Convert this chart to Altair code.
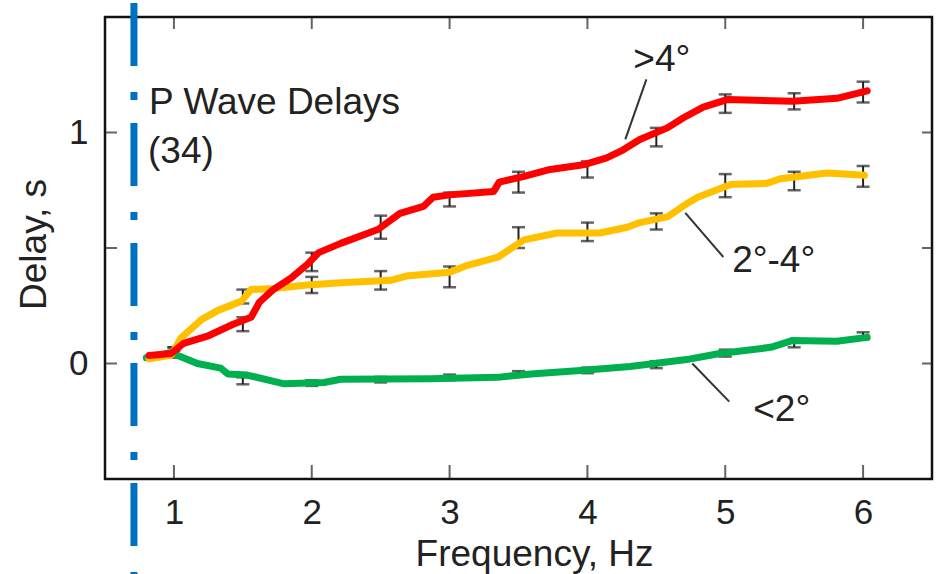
import altair as alt
import pandas as pd

# Smoothed delay curves (frequency in Hz, delay in s) for three distance bands
red_freq = [0.82, 0.98, 1.07, 1.25, 1.43, 1.56, 1.62, 1.72, 1.85, 1.97, 2.05, 2.21, 2.48, 2.64,
            2.81, 2.88, 3.0, 3.32, 3.36, 3.54, 3.73, 3.97, 4.14, 4.26, 4.38, 4.58, 4.70, 4.84,
            5.02, 5.49, 5.81, 6.03]
red_delay = [0.035, 0.043, 0.087, 0.12, 0.17, 0.20, 0.265, 0.32, 0.37, 0.43, 0.48, 0.52, 0.58, 0.65,
             0.68, 0.72, 0.73, 0.745, 0.785, 0.81, 0.84, 0.86, 0.89, 0.925, 0.97, 1.02, 1.065, 1.11,
             1.143, 1.135, 1.148, 1.18]

yellow_freq = [0.82, 0.98, 1.05, 1.20, 1.32, 1.49, 1.56, 1.72, 1.97, 2.21, 2.57, 2.70, 3.0, 3.13,
               3.35, 3.54, 3.78, 4.09, 4.29, 4.38, 4.58, 4.73, 4.80, 5.04, 5.30, 5.40, 5.74, 6.01]
yellow_delay = [0.02, 0.035, 0.11, 0.19, 0.23, 0.27, 0.32, 0.325, 0.34, 0.35, 0.36, 0.38, 0.395, 0.425,
                0.46, 0.535, 0.565, 0.565, 0.59, 0.61, 0.635, 0.695, 0.72, 0.775, 0.78, 0.80, 0.825, 0.815]

green_freq = [0.80, 0.98, 1.17, 1.34, 1.39, 1.53, 1.80, 2.09, 2.21, 2.86, 3.35, 3.59, 3.95, 4.31,
              4.72, 4.96, 5.33, 5.49, 5.81, 6.03]
green_delay = [0.025, 0.047, 0.0, -0.02, -0.045, -0.05, -0.088, -0.082, -0.068, -0.066, -0.06, -0.045,
               -0.03, -0.013, 0.017, 0.043, 0.07, 0.1, 0.096, 0.113]

# Binned means with their uncertainties
bin_freq = [1.0, 1.5, 2.0, 2.5, 3.0, 3.5, 4.0, 4.5, 5.0, 5.5, 6.0]
red_mean = [0.05, 0.17, 0.44, 0.59, 0.71, 0.785, 0.84, 0.98, 1.125, 1.135, 1.175]
red_err = [0.02, 0.03, 0.04, 0.05, 0.03, 0.045, 0.035, 0.04, 0.04, 0.035, 0.045]
yellow_mean = [0.05, 0.29, 0.34, 0.36, 0.375, 0.545, 0.57, 0.615, 0.77, 0.79, 0.81]
yellow_err = [0.02, 0.03, 0.035, 0.04, 0.045, 0.045, 0.04, 0.035, 0.05, 0.04, 0.045]
green_mean = [0.04, -0.075, -0.085, -0.07, -0.06, -0.045, -0.03, -0.005, 0.045, 0.085, 0.12]
green_err = [0.015, 0.015, 0.012, 0.012, 0.012, 0.012, 0.012, 0.015, 0.015, 0.015, 0.015]

# Text annotations
note_text = ["P Wave Delays", "(34)", ">4°", "2°-4°", "<2°"]
note_freq = [0.82, 0.812, 4.333, 5.05, 5.203]
note_delay = [1.078, 0.87, 1.265, 0.396, -0.248]

# Leader lines from the band labels to their curves
lead_f1 = [4.428, 4.71, 4.761]
lead_d1 = [1.230, 0.652, 0.0]
lead_f2 = [4.275, 4.986, 5.029]
lead_d2 = [0.970, 0.461, -0.165]

# Reference frequency marker
marker_freq = [0.71]
marker_top = [1.561]
marker_bottom = [-0.917]

# Axis ranges and tick positions
x_range = [0.5, 6.5]
y_range = [-0.5, 1.5]
x_ticks = [1, 2, 3, 4, 5, 6]
y_ticks = [0, 0.5, 1]
y_labels = [0, 1]

FONT = "Liberation Sans"
INK = "#222222"

xs = alt.Scale(domain=x_range, nice=False)
ys = alt.Scale(domain=y_range, nice=False, zero=False)

x_axis = alt.Axis(
    values=x_ticks, orient="bottom", ticks=False, tickSize=0, domain=False, grid=False,
    format="d", labelFont=FONT, labelFontSize=35, labelColor=INK, labelPadding=16,
    title="Frequency, Hz", titleFont=FONT, titleFontSize=37, titleFontWeight="normal",
    titleColor=INK, titleX=429, titleY=86, titleBaseline="alphabetic",
)
y_axis = alt.Axis(
    values=y_labels, orient="left", ticks=False, tickSize=0, domain=False, grid=False,
    format="d", labelFont=FONT, labelFontSize=35, labelColor=INK, labelPadding=17,
    title="Delay, s", titleFont=FONT, titleFontSize=37, titleFontWeight="normal",
    titleColor=INK, titleX=-60, titleY=227, titleBaseline="alphabetic", titleAngle=270,
)


def X(field):
    return alt.X(field, scale=xs, axis=x_axis)


def Y(field):
    return alt.Y(field, scale=ys, axis=y_axis)


# Error bar table
err_rows = []
for mean, err in ((red_mean, red_err), (yellow_mean, yellow_err), (green_mean, green_err)):
    for f, m, e in zip(bin_freq, mean, err):
        err_rows.append({"freq": f, "lo": m - e, "hi": m + e})
err_df = pd.DataFrame(err_rows)
cap_df = pd.concat([
    err_df[["freq", "lo"]].rename(columns={"lo": "delay"}),
    err_df[["freq", "hi"]].rename(columns={"hi": "delay"}),
])

bars = alt.Chart(err_df).mark_rule(color=INK, strokeWidth=2).encode(
    x=X("freq:Q"), y=Y("lo:Q"), y2="hi:Q",
)
caps = alt.Chart(cap_df).mark_tick(color=INK, orient="horizontal", size=13, thickness=2.5).encode(
    x=X("freq:Q"), y=Y("delay:Q"),
)

# Inward frame ticks: centred on the frame edge, half clipped away by the plot area
xt_df = pd.DataFrame({"freq": x_ticks * 2,
                      "delay": [y_range[0]] * len(x_ticks) + [y_range[1]] * len(x_ticks),
                      "len": [28] * len(x_ticks) + [24] * len(x_ticks)})
yt_df = pd.DataFrame({"delay": y_ticks * 2,
                      "freq": [x_range[0]] * len(y_ticks) + [x_range[1]] * len(y_ticks),
                      "len": [24] * len(y_ticks) + [20] * len(y_ticks)})
x_frame_ticks = alt.Chart(xt_df).mark_tick(color=INK, orient="vertical", thickness=2, clip=True).encode(
    x=X("freq:Q"), y=Y("delay:Q"),
    size=alt.Size("len:Q", scale=None, legend=None),
)
y_frame_ticks = alt.Chart(yt_df).mark_tick(color=INK, orient="horizontal", thickness=2, clip=True).encode(
    x=X("freq:Q"), y=Y("delay:Q"),
    size=alt.Size("len:Q", scale=None, legend=None),
)


def curve(freq, delay, color):
    df = pd.DataFrame({"freq": freq, "delay": delay})
    return alt.Chart(df).mark_line(color=color, strokeWidth=7, strokeCap="round",
                                   strokeJoin="round").encode(
        x=X("freq:Q"), y=Y("delay:Q"),
    )


green = curve(green_freq, green_delay, "#00b050")
yellow = curve(yellow_freq, yellow_delay, "#ffc000")
red = curve(red_freq, red_delay, "#ff0000")

leaders = alt.Chart(pd.DataFrame({"freq": lead_f1, "delay": lead_d1, "f2": lead_f2, "d2": lead_d2})).mark_rule(
    color="#333333", strokeWidth=2).encode(
    x=X("freq:Q"), x2="f2:Q", y=Y("delay:Q"), y2="d2:Q",
)

notes = alt.Chart(pd.DataFrame({"freq": note_freq, "delay": note_delay, "label": note_text})).mark_text(
    align="left", baseline="alphabetic", font=FONT, fontSize=37, color=INK).encode(
    x=X("freq:Q"), y=Y("delay:Q"), text="label:N",
)

marker = alt.Chart(pd.DataFrame({"freq": marker_freq, "delay": marker_top, "bottom": marker_bottom})).mark_rule(
    color="#0070c0", strokeWidth=7, strokeDash=[63, 26, 8, 23], strokeCap="butt", clip=False).encode(
    x=X("freq:Q"), y=Y("delay:Q"), y2="bottom:Q",
)

chart = alt.layer(
    bars, caps, x_frame_ticks, y_frame_ticks, green, yellow, red, leaders, notes, marker
).properties(
    width=827, height=462,
    autosize=alt.AutoSizeParams(type="none"),
    padding={"left": 105, "top": 17, "right": 8, "bottom": 95},
    background="white",
).configure_view(stroke="#111111", strokeWidth=2.5)

chart.save("out.html", embed_options={"renderer": "svg", "actions": False})
